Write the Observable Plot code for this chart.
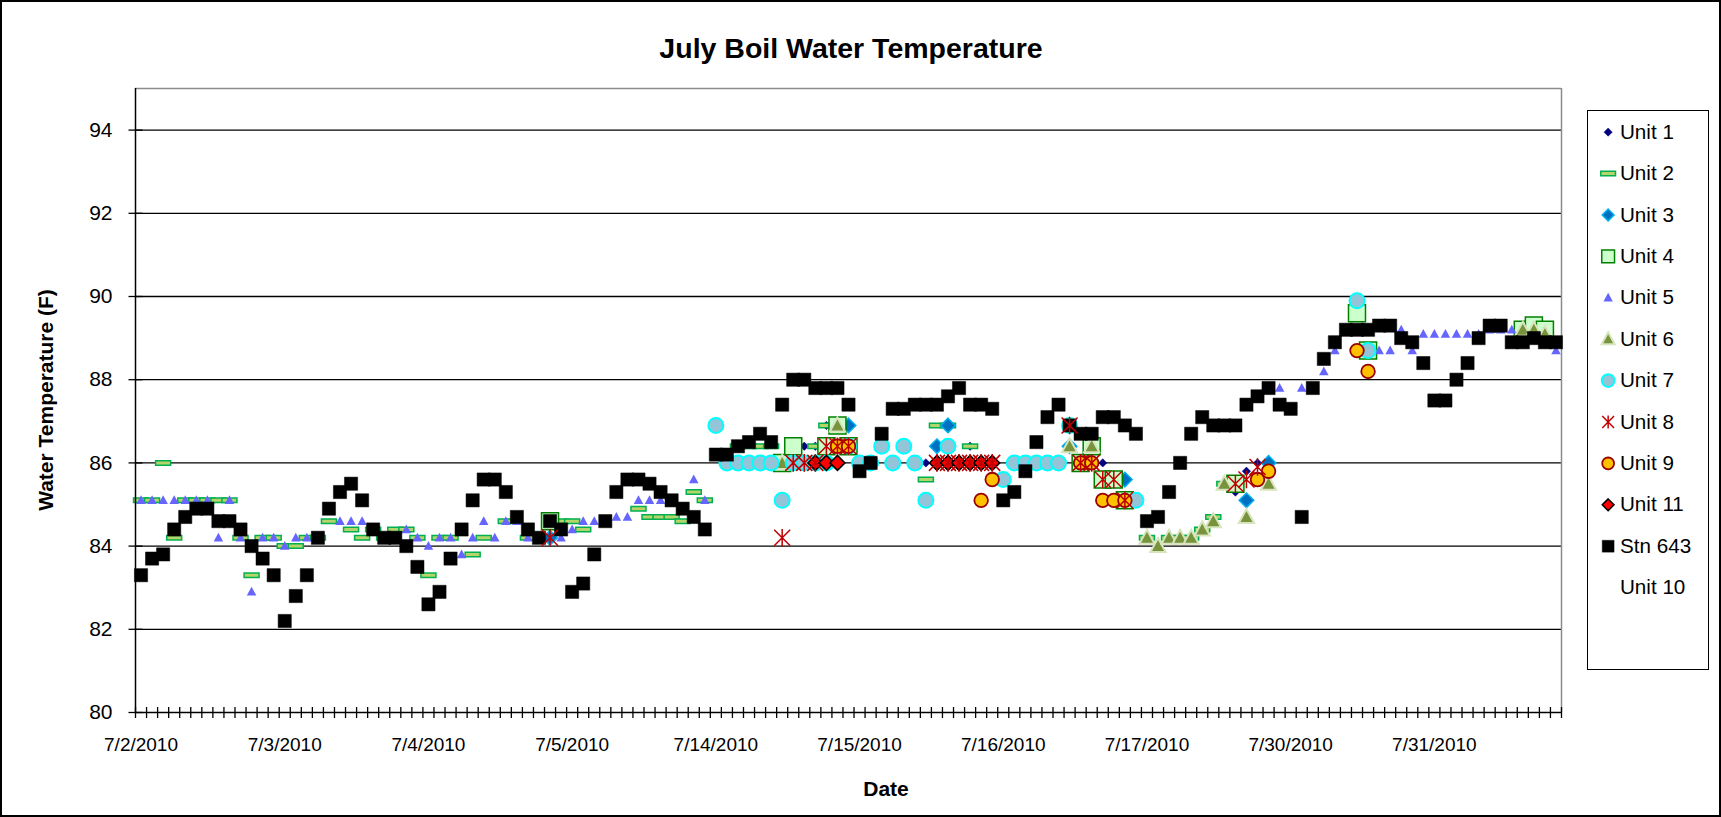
<!DOCTYPE html>
<html><head><meta charset="utf-8">
<script src="https://cdn.jsdelivr.net/npm/d3@7"></script>
<script src="https://cdn.jsdelivr.net/npm/@observablehq/plot@0.6"></script>
<style>
html,body{margin:0;padding:0;background:#fff;}
#wrap{position:relative;width:1721px;height:817px;overflow:hidden;font-family:"Liberation Sans",Arial,sans-serif;background:#fff;}
#wrap svg{position:absolute;left:0;top:0;overflow:visible;}
.abs{position:absolute;white-space:nowrap;color:#000;}
#frame{position:absolute;left:0;top:0;width:1721px;height:817px;box-sizing:border-box;border:2px solid #000;pointer-events:none;}
#title{left:851px;top:48px;transform:translate(-50%,-50%);font-size:28.5px;font-weight:bold;}
#ytitle{left:46px;top:400px;transform:translate(-50%,-50%) rotate(-90deg);font-size:21px;font-weight:bold;}
#xtitle{left:886px;top:789px;transform:translate(-50%,-50%);font-size:21px;font-weight:bold;}
#legend{position:absolute;left:1587px;top:110px;width:122px;height:560px;box-sizing:border-box;border:1.5px solid #000;background:#fff;}
#legend svg{left:-1.5px;top:-1.5px;}
</style></head><body><div id="wrap">
<div id="title" class="abs">July Boil Water Temperature</div>
<div id="ytitle" class="abs">Water Temperature (F)</div>
<div id="xtitle" class="abs">Date</div>
<div id="legend"></div>
<div id="frame"></div>
</div>
<script>
// ---------------- data ----------------
const nCategories = 129;
const labelStep = 13;
const tickLabels = ["7/2/2010","7/3/2010","7/4/2010","7/5/2010","7/14/2010","7/15/2010","7/16/2010","7/17/2010","7/30/2010","7/31/2010"];
const yTicks = [80,82,84,86,88,90,92,94];

const stn643 = [83.3,83.7,83.8,84.4,84.7,84.9,84.9,84.6,84.6,84.4,
84.0,83.7,83.3,82.2,82.8,83.3,84.2,84.9,85.3,85.5,
85.1,84.4,84.2,84.2,84.0,83.5,82.6,82.9,83.7,84.4,
85.1,85.6,85.6,85.3,84.7,84.4,84.2,84.6,84.4,82.9,
83.1,83.8,84.6,85.3,85.6,85.6,85.5,85.3,85.1,84.9,
84.7,84.4,86.2,86.2,86.4,86.5,86.7,86.5,87.4,88.0,
88.0,87.8,87.8,87.8,87.4,85.8,86.0,86.7,87.3,87.3,
87.4,87.4,87.4,87.6,87.8,87.4,87.4,87.3,85.1,85.3,
85.8,86.5,87.1,87.4,86.9,86.7,86.7,87.1,87.1,86.9,
86.7,84.6,84.7,85.3,86.0,86.7,87.1,86.9,86.9,86.9,
87.4,87.6,87.8,87.4,87.3,84.7,87.8,88.5,88.9,89.2,
89.2,89.2,89.3,89.3,89.0,88.9,88.4,87.5,87.5,88.0,
88.4,89.0,89.3,89.3,88.9,88.9,89.0,88.9,88.9];

// [category index, value]
const unit1 = [[60,86.4],[61,86.4],[62,86.9],[71,86.0],[75,86.4],[87,86.0],[99,85.3],[100,85.8],[101,86.0]];
const unit2 = [[0,85.1],[1,85.1],[2,86.0],[3,84.2],[4,85.1],[5,85.1],[6,85.1],[7,85.1],[8,85.1],[9,84.2],[10,83.3],[11,84.2],[12,84.2],[13,84.0],[14,84.0],[15,84.2],[16,84.2],[17,84.6],[19,84.4],[20,84.2],[21,84.4],[22,84.2],[23,84.4],[24,84.4],[25,84.2],[26,83.3],[27,84.2],[28,84.2],[30,83.8],[31,84.2],[33,84.6],[35,84.2],[38,84.6],[39,84.6],[40,84.4],[45,84.9],[46,84.7],[47,84.7],[48,84.7],[49,84.6],[50,85.3],[51,85.1],[54,86.4],[55,86.4],[56,86.4],[57,86.4],[61,86.4],[62,86.9],[71,85.6],[72,86.9],[73,86.9],[75,86.4],[91,84.2],[93,84.2],[94,84.2],[95,84.2],[96,84.4],[97,84.7],[98,85.5]];
const unit3 = [[37,84.2],[64,86.9],[72,86.4],[73,86.9],[84,86.4],[89,85.6],[100,85.1],[102,86.0]];
const unit4 = [[37,84.6],[58,86.0],[59,86.4],[62,86.4],[63,86.9],[64,86.4],[85,86.0],[86,86.4],[87,85.6],[88,85.6],[89,85.1],[99,85.5],[110,89.6],[111,88.7],[125,89.2],[126,89.3],[127,89.2]];
const unit5 = [[0,85.1],[1,85.1],[2,85.1],[3,85.1],[4,85.1],[5,85.1],[6,85.1],[7,84.2],[8,85.1],[9,84.2],[10,82.9],[11,84.2],[12,84.2],[13,84.0],[14,84.2],[15,84.2],[16,84.2],[18,84.6],[19,84.6],[20,84.6],[24,84.4],[25,84.2],[26,84.0],[27,84.2],[28,84.2],[29,83.8],[30,84.2],[31,84.6],[32,84.2],[33,84.6],[34,84.6],[35,84.2],[38,84.2],[39,84.4],[40,84.6],[41,84.6],[43,84.7],[44,84.7],[45,85.1],[46,85.1],[47,85.1],[50,85.6],[51,85.1],[103,87.8],[105,87.8],[107,88.2],[108,88.7],[112,88.7],[113,88.7],[114,89.2],[115,88.7],[116,89.1],[117,89.1],[118,89.1],[119,89.1],[120,89.1],[121,89.1],[122,89.2],[123,89.2],[124,89.2],[128,88.7]];
const unit6 = [[58,86.0],[63,86.9],[84,86.4],[86,86.4],[91,84.2],[92,84.0],[93,84.2],[94,84.2],[95,84.2],[96,84.4],[97,84.6],[98,85.5],[100,84.7],[102,85.5],[125,89.2],[126,89.2],[127,89.1]];
const unit7 = [[52,86.9],[53,86.0],[54,86.0],[55,86.0],[56,86.0],[57,86.0],[58,85.1],[59,86.0],[60,86.0],[61,86.0],[62,86.0],[64,86.4],[65,86.0],[66,86.0],[67,86.4],[68,86.0],[69,86.4],[70,86.0],[71,85.1],[73,86.4],[78,85.6],[79,86.0],[80,86.0],[81,86.0],[82,86.0],[83,86.0],[84,86.9],[90,85.1],[110,89.9],[111,88.7]];
const unit8 = [[37,84.2],[58,84.2],[59,86.0],[60,86.0],[61,86.0],[62,86.4],[63,86.4],[64,86.4],[72,86.0],[73,86.0],[74,86.0],[75,86.0],[76,86.0],[77,86.0],[84,86.9],[85,86.0],[86,86.0],[87,85.6],[88,85.6],[89,85.1],[99,85.5],[100,85.6],[101,85.9]];
const unit9 = [[63,86.4],[64,86.4],[76,85.1],[77,85.6],[85,86.0],[86,86.0],[87,85.1],[88,85.1],[89,85.1],[101,85.6],[102,85.8],[110,88.7],[111,88.2]];
const unit11 = [[61,86.0],[62,86.0],[63,86.0],[72,86.0],[73,86.0],[74,86.0],[75,86.0],[76,86.0],[77,86.0]];
const unit10 = [];

// ---------------- symbols ----------------
const R = s => Math.sqrt(s / Math.PI);
const symSquare = {draw(c, s){const r = R(s); c.rect(-r, -r, 2*r, 2*r);}};
const symDiamond = {draw(c, s){const r = R(s); c.moveTo(0,-r); c.lineTo(r,0); c.lineTo(0,r); c.lineTo(-r,0); c.closePath();}};
const symTri = {draw(c, s){const r = R(s); c.moveTo(0,-r); c.lineTo(r*0.95,r*0.75); c.lineTo(-r*0.95,r*0.75); c.closePath();}};
const symDash = {draw(c, s){const r = R(s); c.rect(-r, -r*0.3, 2*r, r*0.6);}};
const symStar = {draw(c, s){const r = R(s); c.moveTo(-r,-r); c.lineTo(r,r); c.moveTo(r,-r); c.lineTo(-r,r); c.moveTo(0,-r*1.1); c.lineTo(0,r*1.1);}};
const symV = {draw(c, s){const r = R(s); c.moveTo(0,-r); c.lineTo(0,r);}};
const symH = {draw(c, s){const r = R(s); c.moveTo(-r,0); c.lineTo(r,0);}};

const styles = {
  "Unit 1": {symbol: symDiamond, r: 4.2, fill: "#000080", stroke: "#000080", strokeWidth: 0.5},
  "Unit 2": {symbol: symDash, r: 7.5, fill: "#B5D56A", stroke: "#00B050", strokeWidth: 1.5},
  "Unit 3": {symbol: symDiamond, r: 7.3, fill: "#0070C0", stroke: "#00B0F0", strokeWidth: 1.5},
  "Unit 4": {symbol: symSquare, r: 8.5, fill: "#CCFFCC", stroke: "#008000", strokeWidth: 1.5},
  "Unit 5": {symbol: symTri, r: 5, fill: "#6666FF", stroke: "none", strokeWidth: 0},
  "Unit 6": {symbol: symTri, r: 8, fill: "#77933C", stroke: "#D7E4BD", strokeWidth: 2},
  "Unit 7": {symbol: "circle", r: 7.5, fill: "#93C4D8", stroke: "#00FFFF", strokeWidth: 2},
  "Unit 8": {symbol: symStar, r: 8, fill: "none", stroke: "#C00000", strokeWidth: 1.5},
  "Unit 9": {symbol: "circle", r: 6.8, fill: "#FFC000", stroke: "#990000", strokeWidth: 1.8},
  "Unit 11": {symbol: symDiamond, r: 7.5, fill: "#FF0000", stroke: "#000000", strokeWidth: 1.5},
  "Stn 643": {symbol: symSquare, r: 6.6, fill: "#000000", stroke: "#000000", strokeWidth: 0.5},
  "Unit 10": null
};

const stnPairs = stn643.map((v, i) => [i, v]);
const drawOrder = [["Unit 1",unit1],["Unit 2",unit2],["Unit 3",unit3],["Unit 4",unit4],["Unit 5",unit5],["Unit 6",unit6],["Unit 7",unit7],["Stn 643",stnPairs],["Unit 9",unit9],["Unit 11",unit11],["Unit 8",unit8],["Unit 10",unit10]];

const pointMarks = drawOrder.filter(([n]) => styles[n]).map(([n, data]) => {
  const s = styles[n];
  return Plot.dot(data, {x: d => d[0] + 0.5, y: d => d[1], symbol: s.symbol, r: s.r, fill: s.fill, stroke: s.stroke, strokeWidth: s.strokeWidth});
});

const gridVals = yTicks.filter(v => v > 80);
const labelData = tickLabels.map((t, i) => ({t, c: i * labelStep + 0.5}));

const chart = Plot.plot({
  width: 1721, height: 817,
  marginLeft: 135, marginRight: 160, marginTop: 88, marginBottom: 105,
  x: {domain: [0, nCategories], axis: null},
  y: {domain: [80, 95], axis: null},
  style: {fontFamily: "'Liberation Sans', Arial, sans-serif", background: "transparent", color: "#000"},
  marks: [
    Plot.ruleY(gridVals, {stroke: "#000", strokeWidth: 1.3}),
    Plot.ruleY([95], {stroke: "#8C8C8C", strokeWidth: 1.3}),
    Plot.ruleX([nCategories], {stroke: "#8C8C8C", strokeWidth: 1.5}),
    ...pointMarks,
    Plot.ruleX([0], {stroke: "#000", strokeWidth: 1.5}),
    Plot.ruleY([80], {stroke: "#000", strokeWidth: 1.5}),
    Plot.dot(d3.range(0, nCategories + 1), {x: d => d, y: 80, symbol: symV, r: 5.5, stroke: "#000", strokeWidth: 1.3}),
    Plot.dot(yTicks, {x: 0, y: d => d, symbol: symH, r: 7, stroke: "#000", strokeWidth: 1.3}),
    Plot.text(yTicks, {x: 0, y: d => d, text: d => String(d), dx: -23, textAnchor: "end", fontSize: 21, fill: "#000"}),
    Plot.text(labelData, {x: "c", y: 80, text: "t", dy: 32, textAnchor: "middle", lineAnchor: "middle", fontSize: 19, fill: "#000"})
  ]
});
document.getElementById("wrap").insertBefore(chart, document.getElementById("title"));

// ---------------- legend ----------------
const legendNames = ["Unit 1","Unit 2","Unit 3","Unit 4","Unit 5","Unit 6","Unit 7","Unit 8","Unit 9","Unit 11","Stn 643","Unit 10"];
const legendRows = legendNames.map((name, i) => ({name, i}));
const legendR = {"Unit 4": 6.5, "Unit 11": 6, "Unit 3": 6, "Unit 7": 6.5, "Unit 9": 6, "Unit 8": 6, "Unit 6": 7, "Stn 643": 6};
const legendMarks = legendRows.filter(d => styles[d.name]).map(d => {
  const s = styles[d.name];
  const r = legendR[d.name] || s.r;
  return Plot.dot([d], {x: 21, y: row => 22 + row.i * 42.1, symbol: s.symbol, r, fill: s.fill, stroke: s.stroke, strokeWidth: s.strokeWidth});
});
const legend = Plot.plot({
  width: 122, height: 560, margin: 0,
  x: {type: "identity", axis: null},
  y: {type: "identity", axis: null},
  style: {fontFamily: "'Liberation Sans', Arial, sans-serif", background: "transparent"},
  marks: [
    ...legendMarks,
    Plot.text(legendRows, {x: 33, y: d => 22 + d.i * 42.1, text: "name", textAnchor: "start", lineAnchor: "middle", fontSize: 21, fill: "#000"})
  ]
});
document.getElementById("legend").appendChild(legend);
</script></body></html>
